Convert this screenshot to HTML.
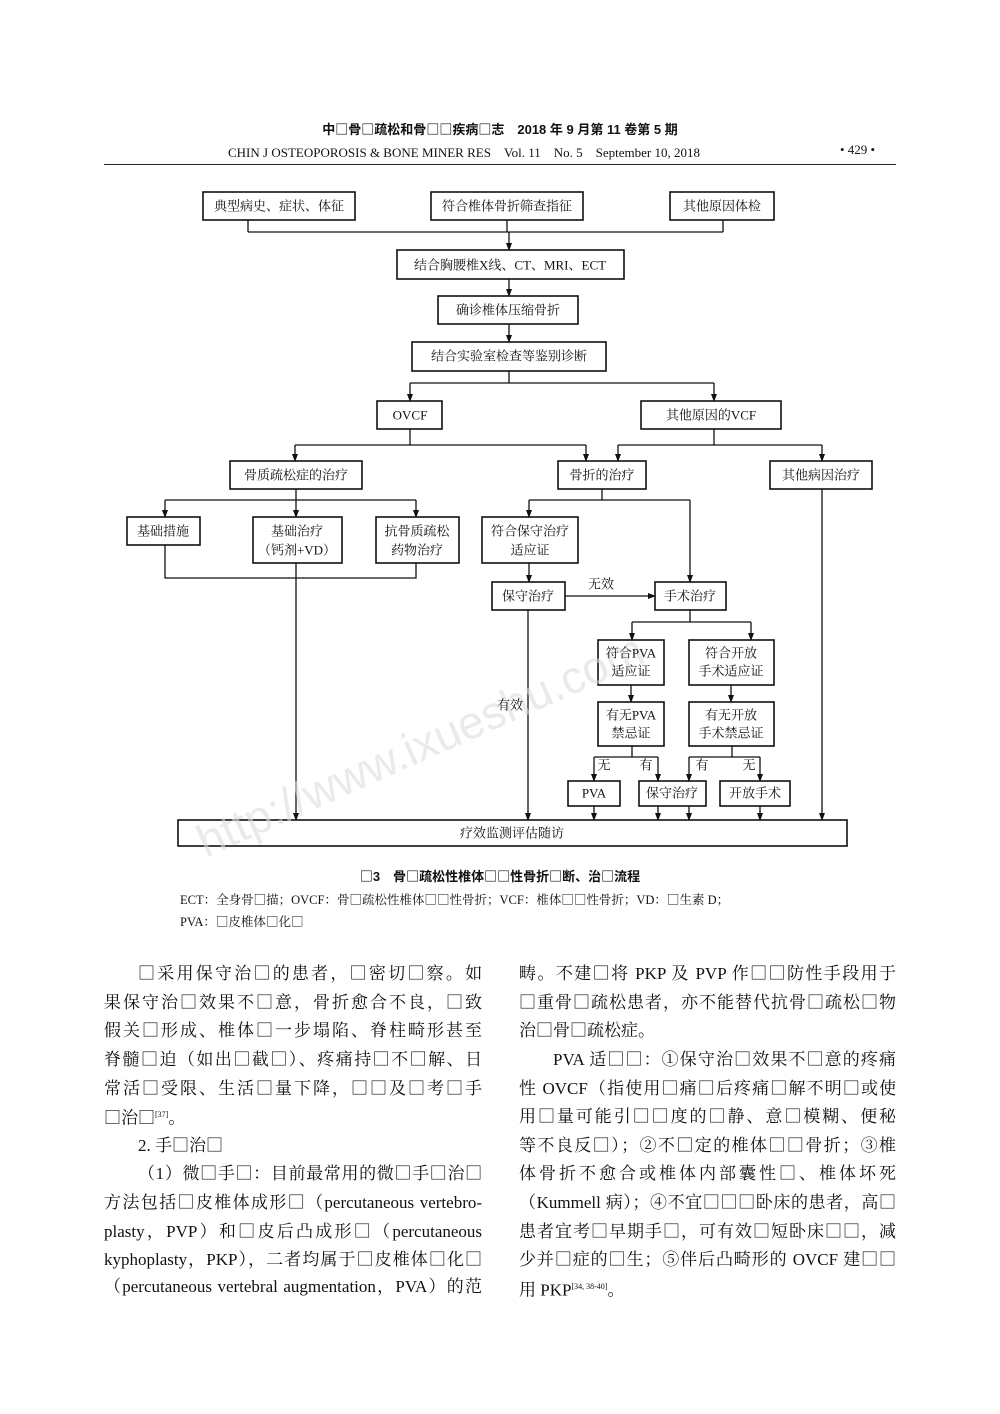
<!DOCTYPE html>
<html><head><meta charset="utf-8"><style>
body{margin:0;background:#fff;}
#p{position:relative;width:1000px;height:1414px;background:#fff;overflow:hidden;font-family:"Liberation Serif","Noto Serif CJK SC","Noto Sans CJK SC",serif;color:#111;}
.l{position:absolute;font-size:17px;line-height:20px;white-space:nowrap;}
.j{text-align:justify;text-align-last:justify;}
.hd{position:absolute;font-size:13px;white-space:nowrap;}
i{font-style:normal;font-family:"Noto Sans CJK SC",sans-serif;}
sup{font-size:8px;}
svg text{font-family:"Liberation Serif","Noto Serif CJK SC",serif;font-size:13px;text-anchor:middle;dominant-baseline:central;fill:#111;}
</style></head><body><div id="p">
<div class="hd" style="left:0;width:1000px;text-align:center;top:119px;font-family:'Liberation Sans','Noto Sans CJK SC',sans-serif;font-weight:bold;">中<i>□</i>骨<i>□</i>疏松和骨<i>□□</i>疾病<i>□</i>志　2018 年 9 月第 11 卷第 5 期</div>
<div class="hd" style="left:228px;top:142px;">CHIN J OSTEOPOROSIS &amp; BONE MINER RES　Vol. 11　No. 5　September 10, 2018</div>
<div class="hd" style="left:840px;top:142px;">• 429 •</div>
<div style="position:absolute;left:104px;top:164px;width:792px;height:1px;background:#222;"></div>

<svg width="1000" height="870" style="position:absolute;left:0;top:0" stroke="#111" stroke-width="1.3" fill="none">
<defs><marker id="a" markerWidth="8" markerHeight="8" refX="7" refY="4" orient="auto" markerUnits="userSpaceOnUse"><path d="M0,1 L8,4 L0,7 z" fill="#111" stroke="none"/></marker></defs>
<g stroke-width="1.6" fill="#fff">
<rect x="203" y="192" width="152" height="28"/><rect x="431" y="192" width="152" height="28"/><rect x="670" y="192" width="104" height="28"/>
<rect x="397" y="250" width="227" height="29"/><rect x="438" y="296" width="140" height="28"/><rect x="412" y="342" width="194" height="29"/>
<rect x="377" y="401" width="65" height="28"/><rect x="641" y="401" width="140" height="28"/>
<rect x="230" y="461" width="132" height="28"/><rect x="558" y="461" width="88" height="28"/><rect x="770" y="461" width="102" height="28"/>
<rect x="127" y="517" width="73" height="28"/><rect x="253" y="517" width="89" height="46"/><rect x="376" y="517" width="83" height="46"/>
<rect x="482" y="517" width="96" height="46"/><rect x="492" y="582" width="73" height="28"/><rect x="655" y="582" width="71" height="28"/>
<rect x="598" y="640" width="66" height="45"/><rect x="689" y="640" width="85" height="45"/>
<rect x="598" y="702" width="66" height="44"/><rect x="689" y="702" width="85" height="44"/>
<rect x="568" y="781" width="52" height="25"/><rect x="639" y="781" width="67" height="25"/><rect x="720" y="781" width="70" height="25"/>
<rect x="178" y="820" width="669" height="26"/>
</g>
<path d="M248,220V232M507,220V232M723,220V232M248,232H723"/>
<path d="M509,232V250" marker-end="url(#a)"/>
<path d="M509,279V296" marker-end="url(#a)"/>
<path d="M509,324V342" marker-end="url(#a)"/>
<path d="M509,371V383M410,383H714"/>
<path d="M410,383V401" marker-end="url(#a)"/><path d="M714,383V401" marker-end="url(#a)"/>
<path d="M410,429V445M295,445H586"/><path d="M295,445V461" marker-end="url(#a)"/><path d="M586,445V461" marker-end="url(#a)"/>
<path d="M714,429V445M618,445H822"/><path d="M618,445V461" marker-end="url(#a)"/><path d="M822,445V461" marker-end="url(#a)"/>
<path d="M296,489V500M165,500H416"/><path d="M165,500V517" marker-end="url(#a)"/><path d="M296,500V517" marker-end="url(#a)"/><path d="M416,500V517" marker-end="url(#a)"/>
<path d="M165,545V578H416V563"/>
<path d="M296,563V820" marker-end="url(#a)"/>
<path d="M602,489V500M529,500H690"/><path d="M529,500V517" marker-end="url(#a)"/><path d="M690,500V582" marker-end="url(#a)"/>
<path d="M529,563V582" marker-end="url(#a)"/>
<path d="M565,596H655" marker-end="url(#a)"/>
<path d="M528,610V820" marker-end="url(#a)"/>
<path d="M690,610V622M632,622H751"/><path d="M632,622V640" marker-end="url(#a)"/><path d="M751,622V640" marker-end="url(#a)"/>
<path d="M631,685V702" marker-end="url(#a)"/><path d="M731,685V702" marker-end="url(#a)"/>
<path d="M632,746V757M594,757H658"/><path d="M594,757V781" marker-end="url(#a)"/><path d="M658,757V781" marker-end="url(#a)"/>
<path d="M732,746V757M689,757H760"/><path d="M689,757V781" marker-end="url(#a)"/><path d="M760,757V781" marker-end="url(#a)"/>
<path d="M594,806V820" marker-end="url(#a)"/><path d="M658,806V820" marker-end="url(#a)"/><path d="M689,806V820" marker-end="url(#a)"/><path d="M760,806V820" marker-end="url(#a)"/>
<path d="M822,489V820" marker-end="url(#a)"/>
<g stroke="none">
<text x="420" y="745" transform="rotate(-24 420 745)" style="font-family:'Liberation Sans',sans-serif;font-size:46px;fill:#ddd;opacity:.6">http://www.ixueshu.com</text>
</g>
<g stroke="none">
<text x="279" y="206">典型病史、症状、体征</text><text x="507" y="206">符合椎体骨折筛查指征</text><text x="722" y="206">其他原因体检</text>
<text x="510" y="265">结合胸腰椎X线、CT、MRI、ECT</text><text x="508" y="310">确诊椎体压缩骨折</text><text x="509" y="356">结合实验室检查等鉴别诊断</text>
<text x="410" y="415">OVCF</text><text x="711" y="415">其他原因的VCF</text>
<text x="296" y="475">骨质疏松症的治疗</text><text x="602" y="475">骨折的治疗</text><text x="821" y="475">其他病因治疗</text>
<text x="163" y="531">基础措施</text><text x="297" y="531">基础治疗</text><text x="297" y="550">（钙剂+VD）</text>
<text x="417" y="531">抗骨质疏松</text><text x="417" y="550">药物治疗</text>
<text x="530" y="531">符合保守治疗</text><text x="530" y="550">适应证</text>
<text x="528" y="596">保守治疗</text><text x="690" y="596">手术治疗</text><text x="601" y="584">无效</text>
<text x="631" y="653">符合PVA</text><text x="631" y="671">适应证</text><text x="731" y="653">符合开放</text><text x="731" y="671">手术适应证</text>
<text x="631" y="715">有无PVA</text><text x="631" y="733">禁忌证</text><text x="731" y="715">有无开放</text><text x="731" y="733">手术禁忌证</text>
<text x="604" y="765">无</text><text x="646" y="765">有</text><text x="702" y="765">有</text><text x="749" y="765">无</text>
<text x="594" y="793">PVA</text><text x="672" y="793">保守治疗</text><text x="755" y="793">开放手术</text>
<text x="510" y="705">有效</text><text x="512" y="833">疗效监测评估随访</text>
</g>
</svg>

<div class="l" style="left:0;width:1000px;text-align:center;top:866px;font-size:13px;font-family:'Liberation Sans','Noto Sans CJK SC',sans-serif;font-weight:bold;"><i>□</i>3　骨<i>□</i>疏松性椎体<i>□□</i>性骨折<i>□</i>断、治<i>□</i>流程</div>
<div class="l" style="left:180px;top:889px;font-size:12.5px;">ECT：全身骨<i>□</i>描；OVCF：骨<i>□</i>疏松性椎体<i>□□</i>性骨折；VCF：椎体<i>□□</i>性骨折；VD：<i>□</i>生素 D；</div>
<div class="l" style="left:180px;top:911px;font-size:12.5px;">PVA：<i>□</i>皮椎体<i>□</i>化<i>□</i></div>

<div class="l j" style="left:138px;width:344px;top:962px;"><i>□</i>采用保守治<i>□</i>的患者，<i>□</i>密切<i>□</i>察。如</div>
<div class="l j" style="left:104px;width:378px;top:991px;">果保守治<i>□</i>效果不<i>□</i>意，骨折愈合不良，<i>□</i>致</div>
<div class="l j" style="left:104px;width:378px;top:1019px;">假关<i>□</i>形成、椎体<i>□</i>一步塌陷、脊柱畸形甚至</div>
<div class="l j" style="left:104px;width:378px;top:1048px;">脊髓<i>□</i>迫（如出<i>□</i>截<i>□</i>）、疼痛持<i>□</i>不<i>□</i>解、日</div>
<div class="l j" style="left:104px;width:378px;top:1077px;">常活<i>□</i>受限、生活<i>□</i>量下降，<i>□□</i>及<i>□</i>考<i>□</i>手</div>
<div class="l" style="left:104px;top:1105px;"><i>□</i>治<i>□</i><sup>[37]</sup>。</div>
<div class="l" style="left:138px;top:1134px;">2. 手<i>□</i>治<i>□</i></div>
<div class="l j" style="left:138px;width:344px;top:1162px;">（1）微<i>□</i>手<i>□</i>：目前最常用的微<i>□</i>手<i>□</i>治<i>□</i></div>
<div class="l j" style="left:104px;width:378px;top:1191px;">方法包括<i>□</i>皮椎体成形<i>□</i>（percutaneous vertebro-</div>
<div class="l j" style="left:104px;width:378px;top:1220px;">plasty，PVP）和<i>□</i>皮后凸成形<i>□</i>（percutaneous</div>
<div class="l j" style="left:104px;width:378px;top:1248px;">kyphoplasty，PKP），二者均属于<i>□</i>皮椎体<i>□</i>化<i>□</i></div>
<div class="l j" style="left:104px;width:378px;top:1277px;">（percutaneous vertebral augmentation，PVA）的范</div>

<div class="l j" style="left:519px;width:377px;top:962px;">畴。不建<i>□</i>将 PKP 及 PVP 作<i>□□</i>防性手段用于</div>
<div class="l j" style="left:519px;width:377px;top:991px;"><i>□</i>重骨<i>□</i>疏松患者，亦不能替代抗骨<i>□</i>疏松<i>□</i>物</div>
<div class="l" style="left:519px;top:1019px;">治<i>□</i>骨<i>□</i>疏松症。</div>
<div class="l j" style="left:553px;width:343px;top:1048px;">PVA 适<i>□□</i>：①保守治<i>□</i>效果不<i>□</i>意的疼痛</div>
<div class="l j" style="left:519px;width:377px;top:1077px;">性 OVCF（指使用<i>□</i>痛<i>□</i>后疼痛<i>□</i>解不明<i>□</i>或使</div>
<div class="l j" style="left:519px;width:377px;top:1105px;">用<i>□</i>量可能引<i>□□</i>度的<i>□</i>静、意<i>□</i>模糊、便秘</div>
<div class="l j" style="left:519px;width:377px;top:1134px;">等不良反<i>□</i>）；②不<i>□</i>定的椎体<i>□□</i>骨折；③椎</div>
<div class="l j" style="left:519px;width:377px;top:1162px;">体骨折不愈合或椎体内部囊性<i>□</i>、椎体坏死</div>
<div class="l j" style="left:519px;width:377px;top:1191px;">（Kummell 病）；④不宜<i>□□□</i>卧床的患者，高<i>□</i></div>
<div class="l j" style="left:519px;width:377px;top:1220px;">患者宜考<i>□</i>早期手<i>□</i>，可有效<i>□</i>短卧床<i>□□</i>，减</div>
<div class="l j" style="left:519px;width:377px;top:1248px;">少并<i>□</i>症的<i>□</i>生；⑤伴后凸畸形的 OVCF 建<i>□□</i></div>
<div class="l" style="left:519px;top:1277px;">用 PKP<sup>[34, 38-40]</sup>。</div>
</div></body></html>
